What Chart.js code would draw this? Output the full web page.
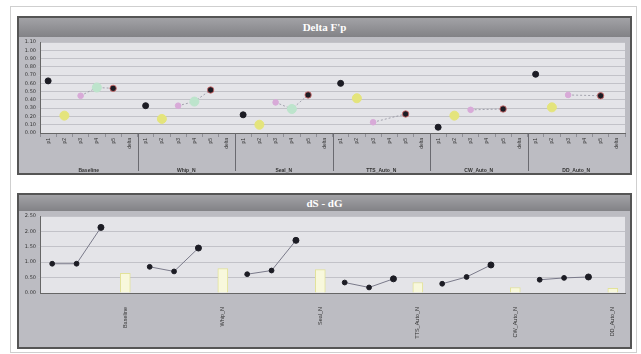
<!DOCTYPE html>
<html>
<head>
<meta charset="utf-8">
<script src="https://cdn.jsdelivr.net/npm/chart.js"></script>
<style>
body{margin:0;background:#fff;font-family:"DejaVu Sans",sans-serif;}
#wrap{position:absolute;left:10px;top:6px;width:625px;height:345px;border:1px solid #cfcfcf;}
.panel{position:absolute;left:17px;width:611px;border:2px solid #555;background:#b9b9bf;}
.head{background:linear-gradient(#a2a2a6,#828286);color:#fff;font:bold 11px "Liberation Serif",serif;text-align:center;}
.panel canvas{display:block;}
</style>
</head>
<body>
<div id="wrap"></div>
<div class="panel" style="top:16px;">
  <div class="head" style="height:19px;line-height:19px;">Delta F'p</div>
  <canvas id="fpChart" width="611" height="136"></canvas>
</div>
<div class="panel" style="top:193px;">
  <div class="head" style="height:16px;line-height:16px;">dS - dG</div>
  <canvas id="dsdgChart" width="611" height="136"></canvas>
</div>
<script>
// groups / categories
const groups = ["Baseline", "Whip_N", "Seal_N", "TTS_Auto_N", "CW_Auto_N", "DD_Auto_N"];
const subLabels = ["p1", "p2", "p3", "p4", "p5", "delta"];
const fpTicks = [0, 1.1, 0.1];   // min, max, step
const dsdgTicks = [0, 2.5, 0.5];

// Delta F'p, 6 positions per group (delta slot empty)
const deltaFp = [
  0.63, 0.21, 0.45, 0.55, 0.54, null,
  0.33, 0.17, 0.33, 0.38, 0.52, null,
  0.22, 0.10, 0.37, 0.29, 0.46, null,
  0.60, 0.42, 0.13, null, 0.23, null,
  0.07, 0.21, 0.28, null, 0.29, null,
  0.71, 0.31, 0.46, null, 0.45, null
];
// colour of each position inside a group
const posColors = ["#1c1c24", "#e4e47c", "#d8aad8", "#bde4cc", "#1c1c24", "#000"];
const posRadius = [3, 4.5, 2.8, 4.5, 3.2, 0];

// dS - dG : 3 points then a bar per group
const dsdgPoints = [
  0.95, 0.95, 2.13, null,
  0.85, 0.70, 1.46, null,
  0.61, 0.73, 1.71, null,
  0.34, 0.18, 0.46, null,
  0.30, 0.52, 0.91, null,
  0.43, 0.49, 0.52, null
];
const dsdgBars = [
  null, null, null, 0.64,
  null, null, null, 0.79,
  null, null, null, 0.76,
  null, null, null, 0.34,
  null, null, null, 0.18,
  null, null, null, 0.15
];

const fpLabels = [];
groups.forEach(() => subLabels.forEach(s => fpLabels.push(s)));
const dsdgLabels = [];
groups.forEach(g => dsdgLabels.push("", "", "", g));

// grey backgrounds + group separators
const panelBg = {
  id: "panelBg",
  beforeDraw(chart) {
    const { ctx, chartArea: a, width, height } = chart;
    ctx.save();
    ctx.fillStyle = "#bcbcc2";
    ctx.fillRect(0, 0, width, height);
    ctx.fillStyle = "#e4e4e8";
    ctx.fillRect(a.left, a.top, a.right - a.left, a.bottom - a.top);
    ctx.restore();
  },
  afterDraw(chart, args, opts) {
    if (!opts.groupSize) return;
    const { ctx, chartArea: a, height } = chart;
    const xs = chart.scales.x;
    ctx.save();
    ctx.strokeStyle = "#6a6a70";
    ctx.lineWidth = 1;
    for (let i = opts.groupSize; i < xs.ticks.length; i += opts.groupSize) {
      const x = Math.round((xs.getPixelForValue(i - 1) + xs.getPixelForValue(i)) / 2) + 0.5;
      ctx.beginPath();
      ctx.moveTo(x, a.bottom);
      ctx.lineTo(x, height - 2);
      ctx.stroke();
    }
    ctx.restore();
  }
};

const tickFont = { size: 5, family: "DejaVu Sans" };

new Chart(document.getElementById("fpChart"), {
  type: "line",
  data: {
    labels: fpLabels,
    datasets: [{
      data: deltaFp,
      spanGaps: true,
      borderWidth: 1,
      borderColor: "rgba(120,120,135,0.6)",
      segment: {
        borderColor: c => {
          const g0 = Math.floor(c.p0DataIndex / 6), g1 = Math.floor(c.p1DataIndex / 6);
          if (g0 !== g1 || c.p0DataIndex % 6 < 2) return "rgba(0,0,0,0)";
          return "rgba(120,120,135,0.6)";
        },
        borderDash: [2, 2]
      },
      pointRadius: deltaFp.map((_, i) => posRadius[i % 6]),
      pointBackgroundColor: deltaFp.map((_, i) => posColors[i % 6]),
      pointBorderColor: deltaFp.map((_, i) => i % 6 === 4 ? "rgba(220,110,110,0.8)" : posColors[i % 6]),
      pointBorderWidth: 1
    }]
  },
  options: {
    responsive: false,
    animation: false,
    layout: { padding: { top: 3, right: 2, left: 0, bottom: 0 } },
    plugins: { legend: { display: false }, tooltip: { enabled: false }, panelBg: { groupSize: 6 } },
    scales: {
      y: {
        min: fpTicks[0], max: fpTicks[1],
        afterFit: s => { s.width = 21; },
        ticks: { stepSize: fpTicks[2], autoSkip: false, font: tickFont, color: "#333", padding: 2, callback: v => v.toFixed(2) },
        grid: { color: "#c2c2c8", tickLength: 2 },
        border: { color: "#666" }
      },
      x: {
        offset: true,
        afterFit: s => { s.height = 26; },
        ticks: { font: { size: 5 }, color: "#333", autoSkip: false, minRotation: 90, maxRotation: 90, padding: 1 },
        grid: { drawOnChartArea: false, offset: true, tickLength: 4, color: "rgba(60,60,70,0.35)" },
        border: { color: "#666" }
      },
      xg: {
        type: "category",
        labels: groups,
        position: "bottom",
        offset: true,
        afterFit: s => { s.height = 14; },
        ticks: { font: { size: 5, weight: "bold" }, color: "#333", maxRotation: 0, padding: 1 },
        grid: { display: false },
        border: { display: false }
      }
    }
  },
  plugins: [panelBg]
});

new Chart(document.getElementById("dsdgChart"), {
  type: "bar",
  data: {
    labels: dsdgLabels,
    datasets: [{
      type: "line",
      data: dsdgPoints,
      borderColor: "#7a7a8a",
      borderWidth: 1,
      pointRadius: dsdgPoints.map((_, i) => i % 4 === 2 ? 3 : 2.4),
      pointBackgroundColor: "#1c1c24",
      pointBorderColor: "#1c1c24",
      order: 0
    }, {
      data: dsdgBars,
      backgroundColor: "#f8f8dc",
      borderColor: "#e2e29a",
      borderWidth: 1,
      barThickness: 10,
      skipNull: true,
      order: 1
    }]
  },
  options: {
    responsive: false,
    animation: false,
    layout: { padding: { top: 3, right: 2, left: 0, bottom: 0 } },
    plugins: { legend: { display: false }, tooltip: { enabled: false }, panelBg: {} },
    scales: {
      y: {
        min: dsdgTicks[0], max: dsdgTicks[1],
        afterFit: s => { s.width = 21; },
        ticks: { stepSize: dsdgTicks[2], autoSkip: false, font: tickFont, color: "#333", padding: 2, callback: v => v.toFixed(2) },
        grid: { color: "#c2c2c8", tickLength: 2 },
        border: { color: "#666" }
      },
      x: {
        afterFit: s => { s.height = 54; },
        ticks: { font: { size: 5.5 }, color: "#333", autoSkip: false, minRotation: 90, maxRotation: 90, padding: 6 },
        grid: { display: false },
        border: { color: "#666" }
      }
    }
  },
  plugins: [panelBg]
});
</script>
</body>
</html>
